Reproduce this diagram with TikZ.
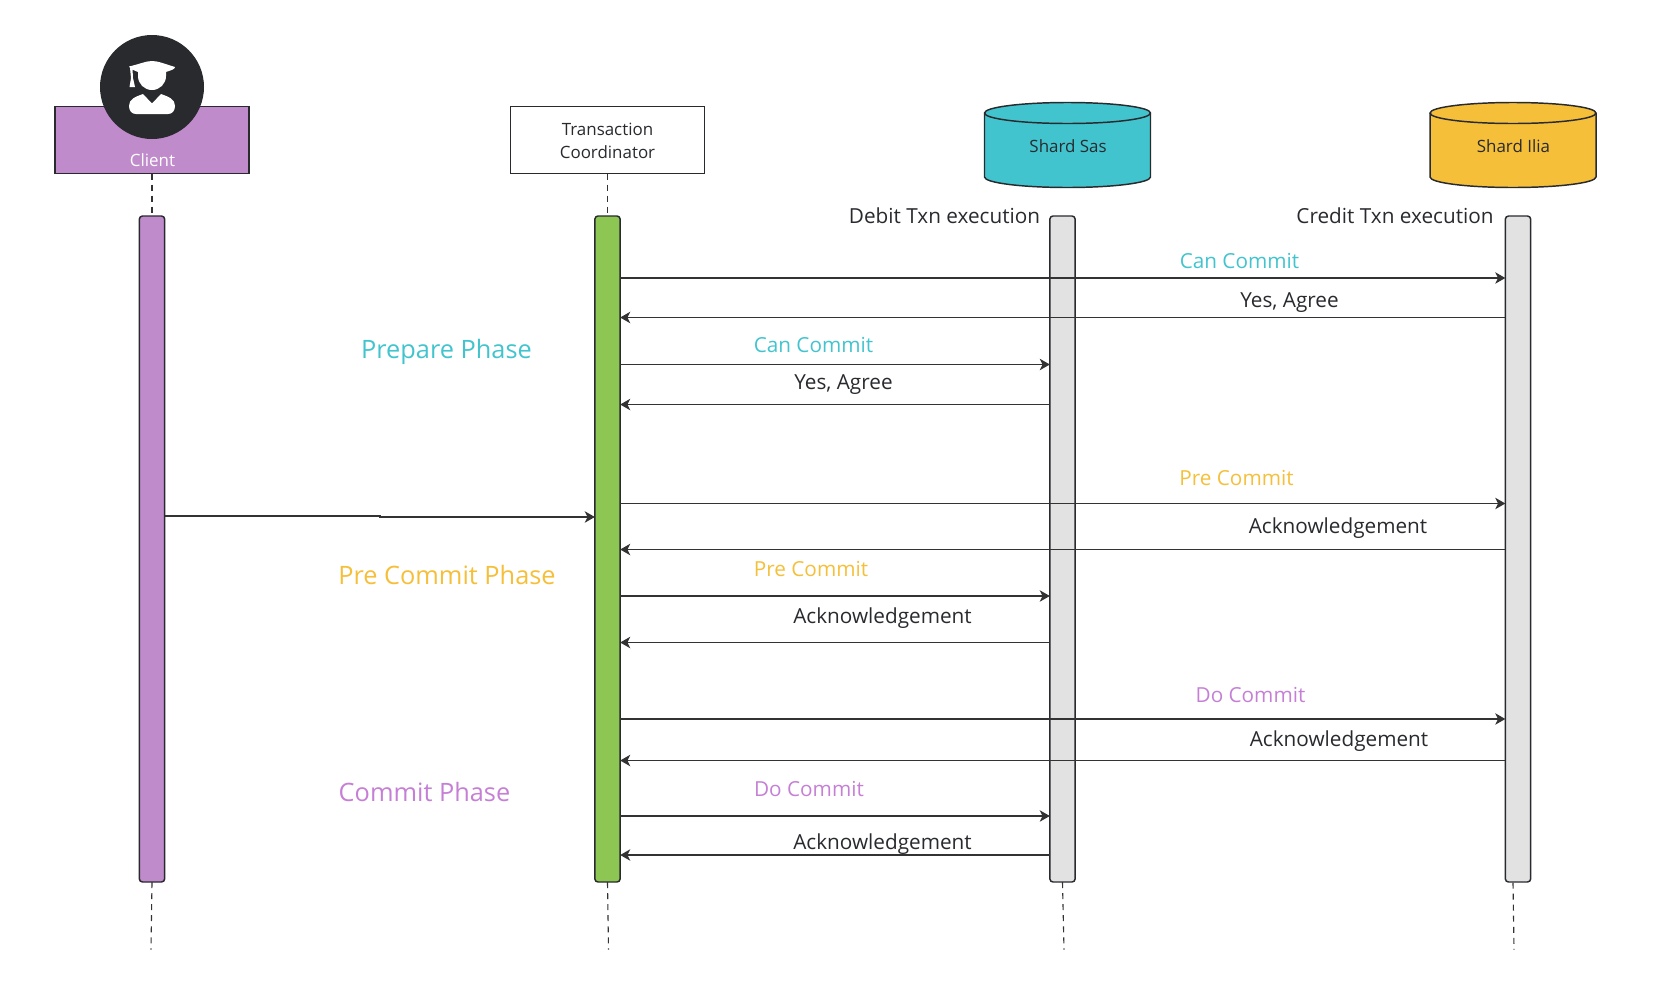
\documentclass[tikz,border=0pt]{standalone}
\usepackage{fontspec}
\setmainfont{Open Sans}
\definecolor{cpurple}{HTML}{C08BCB}
\definecolor{lpurple}{HTML}{C580D6}
\definecolor{cteal}{HTML}{42C4CE}
\definecolor{cyellow}{HTML}{F5BF3A}
\definecolor{cgreen}{HTML}{8DC653}
\definecolor{cgray}{HTML}{E2E2E2}
\definecolor{cdark}{HTML}{282A2E}
\definecolor{cline}{HTML}{333333}
\usetikzlibrary{arrows.meta}
\tikzset{
  x=0.75pt,y=-0.75pt,
  head/.style={draw=cdark,line width=1.1pt,rectangle,minimum width=145.6pt,minimum height=50.25pt,inner sep=0,outer sep=0},
  act/.style={draw=cdark,line width=1.1pt,rectangle,rounded corners=2.4pt,minimum width=19pt,minimum height=499.5pt,inner sep=0,outer sep=0},
  cyl/.style={draw=cdark,line width=1.1pt,line join=round},
  life/.style={draw=cline,line width=0.85pt,dash pattern=on 4.5pt off 3.8pt},
  msg/.style={draw=cline,line width=1.05pt,-{Stealth[length=7.5pt,width=8.5pt,inset=2pt]}},
  lab/.style={inner sep=0,font=\fontsize{15.55}{18}\selectfont,text=cdark},
  small/.style={inner sep=0,font=\fontsize{12.7}{17.2}\selectfont,text=cdark,align=center},
  phase/.style={inner sep=0,font=\fontsize{19}{22}\selectfont},
}
\begin{document}
\begin{tikzpicture}
\useasboundingbox (0,0) rectangle (1670,1000);
% head boxes
\node[head,fill=cpurple] (client) at (152,140) {};
\node[head,fill=white] (tc) at (607.5,140) {};
\node[small] (tctext) at (607.5,140.5) {Transaction\\Coordinator};
\node[small,text=white] (clienttext) at (152.5,160) {Client};
% avatar
\node[circle,fill=cdark,minimum size=78pt,inner sep=0,outer sep=0] (avatar) at (152,87) {};
\fill[white] (129,66.5) .. controls (140,64) and (146,61) .. (152,61) .. controls (158,61) and (165,64) .. (175,67) .. controls (175,69) and (172,70) .. (166,72) -- (166,76) arc[start angle=0,end angle=180,radius=14] -- (138,72) -- (131,69) -- cycle;
\fill[white] (130,68) -- (132.5,69) -- (133,78) -- (135,87) -- (129.5,87) -- (131,78) -- cycle;
\fill[white] (129,106) .. controls (129,99) and (135,97) .. (143,94) -- (152,103.5) -- (161,94) .. controls (169,97) and (175,99) .. (175,106) .. controls (175,111) and (172,114) .. (168,114) -- (136,114) .. controls (132,114) and (129,111) .. (129,106) -- cycle;
% cylinders
\path[cyl,fill=cteal] (984.5,113) arc[start angle=180,end angle=360,x radius=83,y radius=10.5] -- (1150.5,177) arc[start angle=0,end angle=180,x radius=83,y radius=10.5] -- cycle;
\path[cyl] (984.5,113) arc[start angle=180,end angle=0,x radius=83,y radius=10.5];
\path[cyl,fill=cyellow] (1430,113) arc[start angle=180,end angle=360,x radius=83,y radius=10.5] -- (1596,177) arc[start angle=0,end angle=180,x radius=83,y radius=10.5] -- cycle;
\path[cyl] (1430,113) arc[start angle=180,end angle=0,x radius=83,y radius=10.5];
\node[small] (sastext) at (1068.1,146) {Shard Sas};
\node[small] (iliatext) at (1513.4,146) {Shard Ilia};
% activations
\node[act,fill=cpurple] (a1) at (152,549) {};
\node[act,fill=cgreen] (a2) at (607.5,549) {};
\node[act,fill=cgray] (a3) at (1062.5,549) {};
\node[act,fill=cgray] (a4) at (1518,549) {};
% lifelines
\coordinate (e1) at (151,949.5);
\coordinate (e2) at (608.5,949.5);
\coordinate (e3) at (1064,949.5);
\coordinate (s4) at (1513,882.5);
\coordinate (e4) at (1514,949.5);
\draw[life] (client.south) -- (a1.north);
\draw[life] (tc.south) -- (a2.north);
\draw[life] (a1.south) -- (e1);
\draw[life] (a2.south) -- (e2);
\draw[life] (a3.south) -- (e3);
\draw[life] (s4) -- (e4);
% messages
\draw[msg] (a1.east |- 0,516) -- (380,516) -- (380,517) -- (a2.west |- 0,517);
\draw[msg] (a2.east |- 0,278) -- (a4.west |- 0,278);
\draw[msg] (a4.west |- 0,317.5) -- (a2.east |- 0,317.5);
\draw[msg] (a2.east |- 0,364.5) -- (a3.west |- 0,364.5);
\draw[msg] (a3.west |- 0,404.5) -- (a2.east |- 0,404.5);
\draw[msg] (a2.east |- 0,503.5) -- (a4.west |- 0,503.5);
\draw[msg] (a4.west |- 0,549.5) -- (a2.east |- 0,549.5);
\draw[msg] (a2.east |- 0,596) -- (a3.west |- 0,596);
\draw[msg] (a3.west |- 0,642.5) -- (a2.east |- 0,642.5);
\draw[msg] (a2.east |- 0,719) -- (a4.west |- 0,719);
\draw[msg] (a4.west |- 0,760.5) -- (a2.east |- 0,760.5);
\draw[msg] (a2.east |- 0,816) -- (a3.west |- 0,816);
\draw[msg] (a3.west |- 0,855) -- (a2.east |- 0,855);
% labels
\node[lab] (debit) at (944.5,216) {Debit Txn execution};
\node[lab] (credit) at (1395,216) {Credit Txn execution};
\node[lab,text=cteal] (m1) at (1239.5,261) {Can Commit};
\node[lab] (m2) at (1289.5,302.5) {Yes, Agree};
\node[lab,text=cteal] (m3) at (813.5,345) {Can Commit};
\node[lab] (m4) at (843.5,385) {Yes, Agree};
\node[lab,text=cyellow] (m5) at (1236.5,478) {Pre Commit};
\node[lab] (m6) at (1338,528) {Acknowledgement};
\node[lab,text=cyellow] (m7) at (811,569) {Pre Commit};
\node[lab] (m8) at (882.5,618) {Acknowledgement};
\node[lab,text=lpurple] (m9) at (1250.5,695) {Do Commit};
\node[lab] (m10) at (1339,741) {Acknowledgement};
\node[lab,text=lpurple] (m11) at (809,789) {Do Commit};
\node[lab] (m12) at (882.5,844) {Acknowledgement};
\node[phase,text=cteal] (p1) at (446.5,352) {Prepare Phase};
\node[phase,text=cyellow] (p2) at (447,575) {Pre Commit Phase};
\node[phase,text=lpurple] (p3) at (424.5,792) {Commit Phase};
\end{tikzpicture}
\end{document}
